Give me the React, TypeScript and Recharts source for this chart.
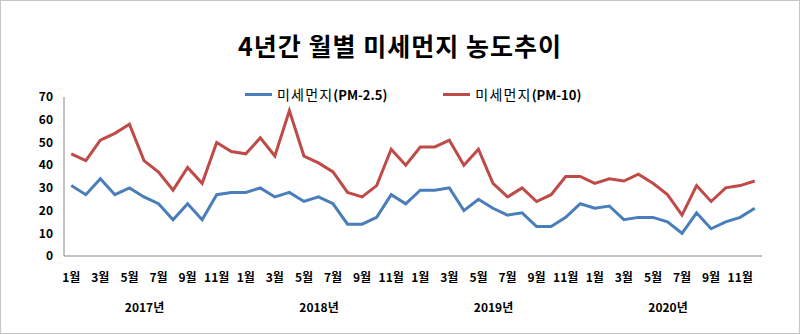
import { LineChart, Line, XAxis, YAxis } from "recharts";

const years = ["2017년", "2018년", "2019년", "2020년"];
const months = ["1월", "2월", "3월", "4월", "5월", "6월", "7월", "8월", "9월", "10월", "11월", "12월"];

// monthly averages, Jan 2017 .. Dec 2020
const pm25 = [
  31, 27, 34, 27, 30, 26, 23, 16, 23, 16, 27, 28,
  28, 30, 26, 28, 24, 26, 23, 14, 14, 17, 27, 23,
  29, 29, 30, 20, 25, 21, 18, 19, 13, 13, 17, 23,
  21, 22, 16, 17, 17, 15, 10, 19, 12, 15, 17, 21,
];
const pm10 = [
  45, 42, 51, 54, 58, 42, 37, 29, 39, 32, 50, 46,
  45, 52, 44, 64, 44, 41, 37, 28, 26, 31, 47, 40,
  48, 48, 51, 40, 47, 32, 26, 30, 24, 27, 35, 35,
  32, 34, 33, 36, 32, 27, 18, 31, 24, 30, 31, 33,
];
const yTicks = [0, 10, 20, 30, 40, 50, 60, 70];

const BLUE = "#4A7EBB";
const RED = "#BE4B48";
const FONT = "'Noto Sans CJK KR', 'Noto Sans', sans-serif";

const data = years.flatMap((year, yi) =>
  months.map((month, mi) => ({
    key: `${year}-${month}`,
    month,
    year,
    pm25: pm25[yi * 12 + mi],
    pm10: pm10[yi * 12 + mi],
  }))
);

function MonthTick(props: any) {
  const { x, y, payload } = props;
  const idx = payload.index;
  const row = data[idx];
  if (!row) return null;
  return (
    <g>
      {idx % 2 === 0 && (
        <text x={x} y={y + 24} textAnchor="middle" fontSize={12} fontWeight={700} fill="#000" fontFamily={FONT}>
          {row.month}
        </text>
      )}
      {idx % 12 === 6 && (
        <text x={x - 14} y={y + 54} textAnchor="middle" fontSize={12} fontWeight={700} fill="#000" fontFamily={FONT}>
          {row.year}
        </text>
      )}
    </g>
  );
}

function LegendItem({ color, name, unit }: { color: string; name: string; unit: string }) {
  return (
    <div style={{ display: "flex", alignItems: "center" }}>
      <div style={{ width: 27, height: 3, background: color, marginRight: 5 }} />
      <span style={{ fontSize: 14, color: "#000", letterSpacing: 1.2 }}>{name}</span>
      <span style={{ fontSize: 13, color: "#000", fontWeight: 700 }}>{unit}</span>
    </div>
  );
}

export default function App() {
  return (
    <div
      style={{
        position: "fixed",
        left: 0,
        top: 0,
        width: 800,
        height: 334,
        boxSizing: "border-box",
        border: "1px solid #c6c6c6",
        background: "#fff",
        fontFamily: FONT,
      }}
    >
      <div
        style={{
          position: "absolute",
          top: 28,
          left: 0,
          width: 798,
          textAlign: "center",
          fontSize: 25,
          fontWeight: 700,
          letterSpacing: 1,
          lineHeight: "32px",
        }}
      >
        4년간 월별 미세먼지 농도추이
      </div>
      <div style={{ position: "absolute", top: 83, left: 244, display: "flex", gap: 56 }}>
        <LegendItem color={BLUE} name="미세먼지" unit="(PM-2.5)" />
        <LegendItem color={RED} name="미세먼지" unit="(PM-10)" />
      </div>
      <div style={{ position: "absolute", left: -1, top: -1 }}>
        <LineChart width={800} height={334} data={data} margin={{ top: 97, right: 38, bottom: 0, left: 0 }}>
          <XAxis
            dataKey="key"
            scale="band"
            interval={0}
            tick={<MonthTick />}
            tickLine={false}
            tickSize={0}
            height={78}
            axisLine={{ stroke: "#868686", strokeWidth: 1 }}
          />
          <YAxis
            domain={[0, 70]}
            ticks={yTicks}
            width={64}
            tickLine={false}
            tickSize={0}
            tickMargin={11}
            axisLine={{ stroke: "#868686", strokeWidth: 1 }}
            tick={{ fontSize: 12, fontWeight: 700, fill: "#000", fontFamily: FONT }}
          />
          <Line type="linear" dataKey="pm25" stroke={BLUE} strokeWidth={3} dot={false} isAnimationActive={false} />
          <Line type="linear" dataKey="pm10" stroke={RED} strokeWidth={3} dot={false} isAnimationActive={false} />
        </LineChart>
      </div>
    </div>
  );
}
